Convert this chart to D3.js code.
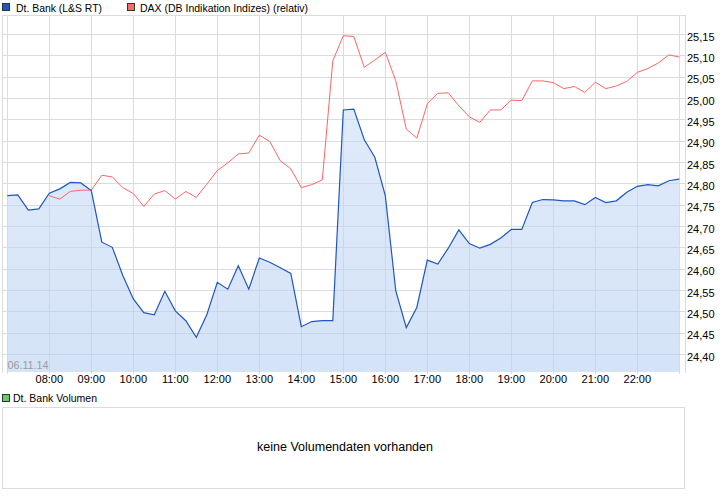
<!DOCTYPE html>
<html><head><meta charset="utf-8">
<script src="https://cdn.jsdelivr.net/npm/d3@7"></script>
<style>html,body{margin:0;padding:0;background:#fff;}svg{display:block;}</style>
</head><body>
<svg id="c" width="726" height="496"></svg>
<script>
const times = ["07:00","07:15","07:30","07:45","08:00","08:15","08:30","08:45","09:00","09:15","09:30","09:45",
"10:00","10:15","10:30","10:45","11:00","11:15","11:30","11:45","12:00","12:15","12:30","12:45",
"13:00","13:15","13:30","13:45","14:00","14:15","14:30","14:45","15:00","15:15","15:30","15:45",
"16:00","16:15","16:30","16:45","17:00","17:15","17:30","17:45","18:00","18:15","18:30","18:45",
"19:00","19:15","19:30","19:45","20:00","20:15","20:30","20:45","21:00","21:15","21:30","21:45",
"22:00","22:15","22:30","22:45","23:00"];
const bank = [24.771,24.773,24.737,24.740,24.777,24.787,24.802,24.801,24.783,24.662,24.650,24.584,
24.529,24.497,24.492,24.547,24.501,24.478,24.439,24.492,24.568,24.552,24.607,24.552,
24.625,24.615,24.602,24.589,24.464,24.476,24.478,24.478,24.972,24.974,24.902,24.861,
24.771,24.548,24.462,24.509,24.620,24.611,24.648,24.691,24.659,24.648,24.657,24.672,
24.692,24.692,24.755,24.762,24.761,24.759,24.759,24.750,24.767,24.755,24.759,24.779,
24.793,24.797,24.794,24.806,24.810];
const dax = [null,null,null,null,24.771,24.763,24.781,24.784,24.784,24.819,24.815,24.790,
24.776,24.746,24.775,24.783,24.763,24.781,24.767,24.798,24.830,24.848,24.869,24.871,
24.913,24.898,24.853,24.834,24.790,24.797,24.808,25.087,25.146,25.144,25.072,25.089,
25.107,25.040,24.927,24.906,24.986,25.011,25.012,24.982,24.956,24.943,24.972,24.972,
24.995,24.994,25.040,25.040,25.036,25.022,25.027,25.013,25.037,25.022,25.028,25.039,
25.060,25.069,25.082,25.101,25.096];
const yTicks = [24.40,24.45,24.50,24.55,24.60,24.65,24.70,24.75,24.80,24.85,24.90,24.95,25.00,25.05,25.10,25.15];
const xTickLabels = ["08:00","09:00","10:00","11:00","12:00","13:00","14:00","15:00","16:00","17:00","18:00","19:00","20:00","21:00","22:00"];
const gridHours = ["07:00","08:00","09:00","10:00","11:00","12:00","13:00","14:00","15:00","16:00","17:00","18:00","19:00","20:00","21:00","22:00","23:00"];
const dateLabel = "06.11.14";
const legendMain = [{name:"Dt. Bank (L&S RT)", color:"#1f56c4"},{name:"DAX (DB Indikation Indizes) (relativ)", color:"#ff6868"}];
const volLegend = "Dt. Bank Volumen";
const noVolText = "keine Volumendaten vorhanden";

const toMin = t => { const [h,m] = t.split(":").map(Number); return h*60+m; };
const svg = d3.select("#c");
const FONT = "'Liberation Sans', Arial, sans-serif";
const grid = "#dcdcdc";

const x = d3.scaleLinear().domain([toMin("07:00"), toMin("23:00")]).range([7.3, 679.3]);
const y = d3.scaleLinear().domain([24.40, 25.15]).range([354, 34]);
const pTop = 15, pBottom = 372, pLeft = 2, pRight = 685;

// frame
svg.append("line").attr("x1",pLeft).attr("x2",pRight+1).attr("y1",pTop+0.5).attr("y2",pTop+0.5).attr("stroke",grid);
svg.append("line").attr("x1",pLeft+0.5).attr("x2",pLeft+0.5).attr("y1",pTop).attr("y2",pBottom+1).attr("stroke",grid);
svg.append("line").attr("x1",pRight+0.5).attr("x2",pRight+0.5).attr("y1",pTop).attr("y2",pBottom+1).attr("stroke",grid);

// horizontal grid
svg.append("g").selectAll("line").data(yTicks).join("line")
  .attr("x1",pLeft).attr("x2",pRight)
  .attr("y1",d=>Math.round(y(d))+0.5).attr("y2",d=>Math.round(y(d))+0.5)
  .attr("stroke",grid);
// vertical grid
svg.append("g").selectAll("line").data(gridHours).join("line")
  .attr("x1",d=>Math.round(x(toMin(d)))+0.5).attr("x2",d=>Math.round(x(toMin(d)))+0.5)
  .attr("y1",pTop).attr("y2",pBottom+2)
  .attr("stroke",grid);

// area
const defs = svg.append("defs");
const lg = defs.append("linearGradient").attr("id","fillg").attr("gradientUnits","userSpaceOnUse")
  .attr("x1",0).attr("x2",0).attr("y1",100).attr("y2",pBottom);
lg.append("stop").attr("offset","0%").attr("stop-color","#c6dbf6").attr("stop-opacity",0.55);
lg.append("stop").attr("offset","100%").attr("stop-color","#b9d0f3").attr("stop-opacity",0.6);
const pts = times.map((t,i)=>({t:toMin(t), b:bank[i], d:dax[i]}));
const area = d3.area().x(d=>x(d.t)).y0(pBottom).y1(d=>y(d.b));
svg.append("path").datum(pts).attr("d",area).attr("fill","url(#fillg)");

const lineD = d3.line().defined(d=>d.d!=null).x(d=>x(d.t)).y(d=>y(d.d));
svg.append("path").datum(pts).attr("d",lineD).attr("fill","none").attr("stroke","#ff6464").attr("stroke-width",1);
const lineB = d3.line().x(d=>x(d.t)).y(d=>y(d.b));
svg.append("path").datum(pts).attr("d",lineB).attr("fill","none").attr("stroke","#1f56c4").attr("stroke-width",1.2);

// y labels
svg.append("g").selectAll("text").data(yTicks).join("text")
  .attr("x",687).attr("y",d=>y(d)+6.5)
  .attr("font-family",FONT).attr("font-size",11).attr("fill","#000")
  .text(d=>d.toFixed(2).replace(".",","));

// x labels
svg.append("g").selectAll("text").data(xTickLabels).join("text")
  .attr("x",d=>x(toMin(d))).attr("y",383).attr("text-anchor","middle")
  .attr("font-family",FONT).attr("font-size",11).attr("fill","#000")
  .text(d=>d);

// date label
svg.append("text").attr("x",7.5).attr("y",368.5).attr("font-family",FONT).attr("font-size",10)
  .attr("fill","#9a9a9a").attr("textLength",41).attr("lengthAdjust","spacingAndGlyphs").text(dateLabel);

// legend
const legX = [2.5, 127.5], legW = [86, 168], legTX = [16, 140];
legendMain.forEach((l,i)=>{
  svg.append("rect").attr("x",legX[i]).attr("y",3.5).attr("width",7).attr("height",7)
    .attr("fill",l.color).attr("stroke","#333").attr("stroke-width",1);
  svg.append("text").attr("x",legTX[i]).attr("y",12).attr("font-family",FONT).attr("font-size",11.5)
    .attr("fill","#000").attr("textLength",legW[i]).attr("lengthAdjust","spacingAndGlyphs").text(l.name);
});

// volume panel
svg.append("rect").attr("x",2.5).attr("y",394.5).attr("width",7).attr("height",7)
  .attr("fill","#66cc66").attr("stroke","#333");
svg.append("text").attr("x",13).attr("y",402).attr("font-family",FONT).attr("font-size",11.5)
  .attr("fill","#000").attr("textLength",84).attr("lengthAdjust","spacingAndGlyphs").text(volLegend);
svg.append("rect").attr("x",2.5).attr("y",407.5).attr("width",682).attr("height",81)
  .attr("fill","none").attr("stroke",grid);
svg.append("text").attr("x",345).attr("y",451).attr("text-anchor","middle").attr("font-family",FONT).attr("font-size",12)
  .attr("fill","#000").attr("textLength",176).attr("lengthAdjust","spacingAndGlyphs").text(noVolText);
</script>
</body></html>
